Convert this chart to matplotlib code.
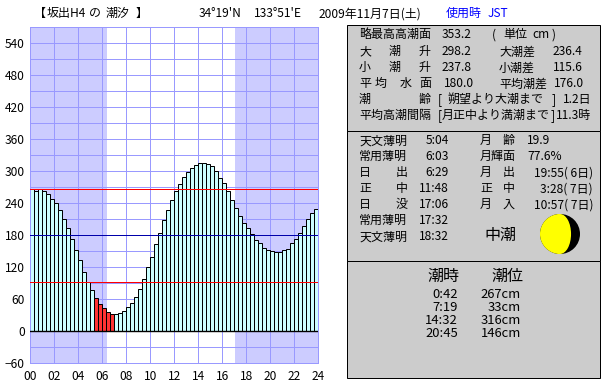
import numpy as np
import matplotlib
matplotlib.use("Agg")
import matplotlib.pyplot as plt
from matplotlib.patches import Rectangle, Circle, Wedge, Ellipse

plt.rcParams['font.family'] = ['Noto Sans CJK JP', 'DejaVu Sans']

W, H = 610, 385
PX = 72.0 / 100  # points per pixel at dpi 100

# tide level every 20 minutes, cm
levels = [265, 263, 265, 262, 256, 248, 239, 226, 209, 192, 173, 152,
          132, 111, 92, 77, 62, 51, 42, 36, 32, 32, 34, 38,
          44, 53, 64, 79, 98, 119, 139, 162, 184, 207, 227, 246,
          262, 275, 289, 298, 305, 311, 315, 315, 313, 309, 299, 287,
          277, 262, 246, 231, 216, 203, 192, 181, 171, 164, 156, 151,
          149, 147, 147, 151, 154, 164, 173, 184, 196, 209, 220, 229]
red_bars = [16, 17, 18, 19, 20]
sunrise, sunset = 6.4, 17.1
red_lines = [266, 92]
mean_level = 180
moon_lit = 0.776

x_labels = ["%02d" % h for h in range(0, 25, 2)]
y_ticks = list(range(-60, 541, 60))

header = [("【", 35), ("坂出H4", 48), ("の", 90), ("潮汐", 107), ("】", 137),
          ("34°19'N", 200), ("133°51'E", 255), ("2009年11月7日(土)", 320)]

panel1 = [
    (34, [("略最高高潮面", 360), ("353.2", 443), ("(", 493), ("単位", 504), ("cm", 533), (")", 553)]),
    (51, [("大", 360), ("潮", 390), ("升", 420), ("298.2", 443), ("大潮差", 500), ("236.4", 554)]),
    (67, [("小", 360), ("潮", 390), ("升", 420), ("237.8", 443), ("小潮差", 500), ("115.6", 554)]),
    (83, [("平", 360), ("均", 376), ("水", 401), ("面", 420), ("180.0", 445), ("平均潮差", 500), ("176.0", 555)]),
    (99, [("潮", 360), ("齢", 420), ("[", 439), ("朔望より大潮まで", 449), ("]", 553), ("1.2日", 564)]),
    (115, [("平均高潮間隔", 360), ("[", 439), ("月正中より満潮まで", 443), ("]", 552), ("11.3時", 557)]),
]

panel2_rows = [140, 156, 172, 188, 204, 220, 236]
sun_labels = [[("天文薄明", 360)], [("常用薄明", 360)], [("日", 360), ("出", 397)],
              [("正", 360), ("中", 397)], [("日", 360), ("没", 397)],
              [("常用薄明", 360)], [("天文薄明", 360)]]
sun_times = ["5:04", "6:03", "6:29", "11:48", "17:06", "17:32", "18:32"]
moon_labels = [[("月", 481), ("齢", 504)], [("月輝面", 481)], [("月", 481), ("出", 504)],
               [("正", 481), ("中", 504)], [("月", 481), ("入", 504)]]
moon_values = ["19.9", "77.6%", "19:55( 6日)", "3:28( 7日)", "10:57( 7日)"]

tide_times = ["0:42", "7:19", "14:32", "20:45"]
tide_heights = ["267cm", "33cm", "316cm", "146cm"]

fig = plt.figure(figsize=(W / 100, H / 100), dpi=100, facecolor='white')

# chart, offset a little so the lines snap onto the same pixels as the original
ax = fig.add_axes([30.2 / W, 22.2 / H, 288 / W, 336 / H])
ax.set_xlim(0, 24)
ax.set_ylim(-60, 570)
ax.set_axisbelow(True)
ax.axvspan(0, sunrise, color='#ccccff', lw=0, zorder=0)
ax.axvspan(sunset, 24, color='#ccccff', lw=0, zorder=0)
for spine in ax.spines.values():
    spine.set_color('#9999ff')
    spine.set_linewidth(PX)
ax.set_xticks(range(0, 25, 2))
ax.set_xticklabels(x_labels)
ax.set_yticks(y_ticks)
ax.set_yticks(range(-30, 570, 60), minor=True)
ax.tick_params(which='both', length=0)
ax.tick_params(axis='both', labelsize=12 * PX, pad=4, colors='black')
ax.tick_params(axis='x', pad=5.5)
ax.grid(True, which='both', color='#9999ff', linewidth=PX, zorder=1)

xs = np.arange(len(levels)) / 3.0
colors = ['#ff3333' if i in red_bars else '#ccffff' for i in range(len(levels))]
ax.bar(xs, levels, width=1 / 3.0, align='edge', color=colors, edgecolor='black',
       linewidth=PX, zorder=2)
ax.axhline(0, color='black', linewidth=PX * 1.4, zorder=3)
for v in red_lines:
    ax.axhline(v, color='#ff0000', linewidth=PX, zorder=4)
ax.axhline(mean_level, color='#0000aa', linewidth=PX, zorder=4)

# everything else is placed in pixel coordinates
ov = fig.add_axes([0, 0, 1, 1], zorder=5)
ov.set_xlim(0, W)
ov.set_ylim(H, 0)
ov.axis('off')


def put(s, x, y, px=12, ha='left', color='black'):
    if ha == 'left':
        x -= 1
    ov.text(x, y + px * 0.36, s, fontsize=px * PX, ha=ha, va='baseline', color=color)


for s, x in header:
    put(s, x, 13)
put("使用時", 447, 13, color='#0000ff')
put("JST", 489, 13, color='#0000ff')

for top, bottom in [(24.7, 130.7), (130.7, 260.7), (260.7, 377.7)]:
    ov.add_patch(Rectangle((347.2, top), 253, bottom - top, facecolor='#cccccc',
                           edgecolor='black', linewidth=PX))

for y, items in panel1:
    for s, x in items:
        put(s, x, y)

for y, items, t in zip(panel2_rows, sun_labels, sun_times):
    for s, x in items:
        put(s, x, y)
    put(t, 449, y, ha='right')
for y, items, v in zip(panel2_rows, moon_labels, moon_values):
    for s, x in items:
        put(s, x, y)
    if '(' in v:
        put(v, 593, y, ha='right')
    else:
        put(v, 528, y)
put("中潮", 485, 234, px=16)

# moon: dark disc, lit half plus terminator ellipse
cx, cy, r = 560, 234, 20
ov.add_patch(Circle((cx, cy), r, facecolor='black', lw=0))
ov.add_patch(Wedge((cx, cy), r, 90, 270, facecolor='#ffff00', lw=0))
ov.add_patch(Ellipse((cx, cy), 2 * r * (2 * moon_lit - 1), 2 * r, facecolor='#ffff00', lw=0))

put("潮時", 428, 275, px=16)
put("潮位", 492, 275, px=16)
for y, t, h in zip([293.5, 306.5, 319.5, 332.5], tide_times, tide_heights):
    put(t, 458, y, px=13, ha='right')
    put(h, 521, y, px=13, ha='right')

fig.savefig("out.png", dpi=100, facecolor='white')
